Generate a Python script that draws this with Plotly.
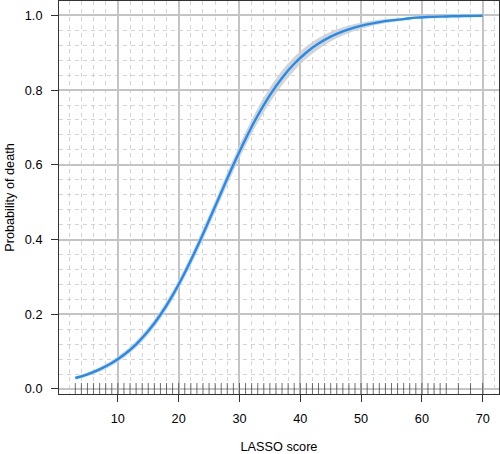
import plotly.graph_objects as go

# ---- data ----
score = [3, 5, 7, 9, 11, 13, 15, 17, 19, 21, 23, 25, 27, 29, 31, 33, 35, 37, 39,
         41, 43, 45, 47, 49, 51, 53, 55, 57, 59, 61, 63, 65, 67, 69, 70]
prob = [0.0294, 0.0394, 0.0524, 0.0694, 0.0916, 0.1197, 0.1550, 0.1986, 0.2507,
        0.3111, 0.3787, 0.4514, 0.5262, 0.5999, 0.6693, 0.7320, 0.7867, 0.8327,
        0.8705, 0.9007, 0.9245, 0.9430, 0.9571, 0.9679, 0.9760, 0.9821, 0.9867,
        0.9901, 0.9940, 0.9955, 0.9966, 0.9975, 0.9982, 0.9987, 0.9989]
lower = [0.0256, 0.0344, 0.0464, 0.0624, 0.0836, 0.1107, 0.1450, 0.1876, 0.2387,
         0.2981, 0.3647, 0.4364, 0.5102, 0.5829, 0.6508, 0.7125, 0.7667, 0.8132,
         0.8520, 0.8837, 0.9095, 0.9300, 0.9461, 0.9589, 0.9685, 0.9761, 0.9819,
         0.9863, 0.9910, 0.9932, 0.9948, 0.9961, 0.9971, 0.9979, 0.9982]
upper = [0.0334, 0.0444, 0.0584, 0.0764, 0.0996, 0.1287, 0.1650, 0.2096, 0.2627,
         0.3241, 0.3927, 0.4664, 0.5422, 0.6169, 0.6878, 0.7515, 0.8067, 0.8522,
         0.8890, 0.9177, 0.9395, 0.9560, 0.9681, 0.9769, 0.9835, 0.9881, 0.9915,
         0.9939, 0.9970, 0.9978, 0.9984, 0.9989, 0.9993, 0.9995, 0.9996]
rug_x = [3, 4, 5, 6, 7, 8, 9, 10, 11, 12, 13, 14, 15, 16, 17, 18, 19, 20, 21, 22,
         23, 24, 25, 26, 27, 28, 29, 30, 31, 32, 33, 34, 35, 36, 37, 38, 39, 40,
         41, 42, 43, 44, 45, 46, 47, 48, 49, 50, 51, 52, 53, 54, 55, 56, 57, 58,
         59, 60, 61, 62, 63, 64, 66, 68, 70]
x_ticks = [10, 20, 30, 40, 50, 60, 70]
y_ticks = [0.0, 0.2, 0.4, 0.6, 0.8, 1.0]

X_RANGE = [0.32, 72.68]
Y_RANGE = [-0.0134, 1.0385]
RUG_TOP = 0.016

FONT = "Liberation Sans, Arial, sans-serif"

fig = go.Figure()

# confidence band
fig.add_trace(go.Scatter(x=score, y=upper, mode="lines", line=dict(width=0, shape="spline"),
                         showlegend=False, hoverinfo="skip"))
fig.add_trace(go.Scatter(x=score, y=lower, mode="lines", line=dict(width=0, shape="spline"),
                         fill="tonexty", fillcolor="rgba(205,205,205,0.85)",
                         showlegend=False, hoverinfo="skip"))
# fitted curve
fig.add_trace(go.Scatter(x=score, y=prob, mode="lines",
                         line=dict(color="#1E8CF5", width=2.4, shape="spline"),
                         showlegend=False))
# rug
rx, ry = [], []
for v in rug_x:
    rx += [v, v, None]
    ry += [Y_RANGE[0], RUG_TOP, None]
fig.add_trace(go.Scatter(x=rx, y=ry, mode="lines", line=dict(color="rgba(50,50,50,0.7)", width=1),
                         showlegend=False, hoverinfo="skip"))

axis_common = dict(
    showline=True, linecolor="#333333", linewidth=1, mirror=True,
    ticks="outside", ticklen=7, tickcolor="#333333", tickwidth=1,
    showgrid=True, gridcolor="#c4c4c4", gridwidth=1.6,
    zeroline=False, automargin=False,
    tickfont=dict(family=FONT, size=12.7, color="#000000"),
)

fig.update_layout(
    width=500, height=454,
    margin=dict(l=59, r=1, t=1, b=60, autoexpand=False),
    paper_bgcolor="white", plot_bgcolor="white",
    font=dict(family=FONT, size=12.7, color="#000000"),
    xaxis=dict(range=X_RANGE, tickvals=x_ticks, ticktext=[str(v) for v in x_ticks],
               ticklabelstandoff=6,
               minor=dict(tick0=0, dtick=2, showgrid=True, gridcolor="#d4d4d4",
                          gridwidth=1, griddash="4px,4px", ticks=""),
               title=dict(text="LASSO score", standoff=25,
                          font=dict(family=FONT, size=12.7)),
               **axis_common),
    yaxis=dict(range=Y_RANGE, tickvals=y_ticks, ticktext=[f"{v:.1f}" for v in y_ticks],
               ticklabelstandoff=6,
               minor=dict(tick0=0, dtick=0.04, showgrid=True, gridcolor="#d4d4d4",
                          gridwidth=1, griddash="4px,4px", ticks=""),
               title=dict(text="Probability of death", standoff=7,
                          font=dict(family=FONT, size=12.7)),
               **axis_common),
)

fig.write_html("out.html", config={"displayModeBar": False},
               post_script="document.body.style.margin='0';document.body.style.padding='0';")
